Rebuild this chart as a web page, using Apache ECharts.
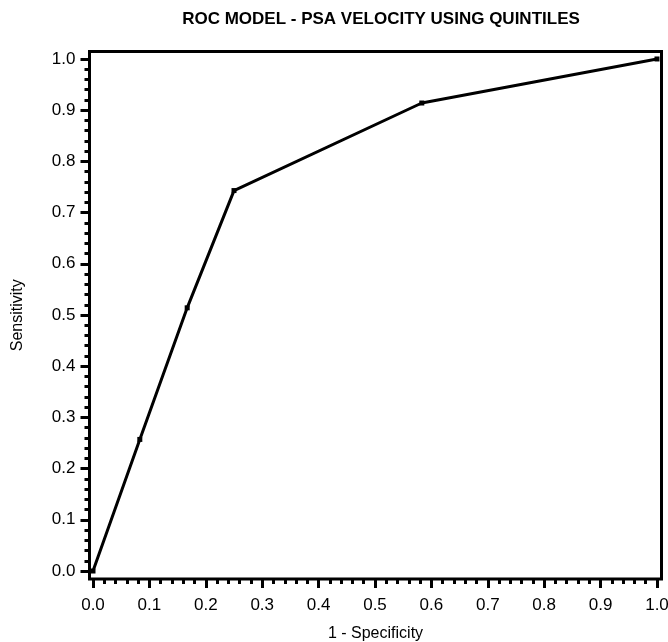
<!DOCTYPE html>
<html>
<head>
<meta charset="utf-8">
<script src="https://cdn.jsdelivr.net/npm/echarts@6/dist/echarts.min.js"></script>
<style>
html,body{margin:0;padding:0;background:#fff;}
#c{width:668px;height:642px;}
</style>
</head>
<body>
<div id="c"></div>
<script>
var titleText = "ROC MODEL - PSA VELOCITY USING QUINTILES";
var xName = "1 - Specificity";
var yName = "Sensitivity";
var falsePositiveRate = [0.0, 0.083, 0.167, 0.25, 0.583, 1.0];
var sensitivity = [0.0, 0.257, 0.514, 0.743, 0.914, 1.0];
var majorTicks = [0.0, 0.1, 0.2, 0.3, 0.4, 0.5, 0.6, 0.7, 0.8, 0.9, 1.0];
var minorTicks = [0.02,0.04,0.06,0.08,0.12,0.14,0.16,0.18,0.22,0.24,0.26,0.28,0.32,0.34,0.36,0.38,
                  0.42,0.44,0.46,0.48,0.52,0.54,0.56,0.58,0.62,0.64,0.66,0.68,0.72,0.74,0.76,0.78,
                  0.82,0.84,0.86,0.88,0.92,0.94,0.96,0.98];
var tickLabels = ["0.0","0.1","0.2","0.3","0.4","0.5","0.6","0.7","0.8","0.9","1.0"];

var pts = falsePositiveRate.map(function(x, i){ return [x, sensitivity[i]]; });
var FONT = "'Liberation Sans', Arial, sans-serif";
var X_MIN = -0.0062, X_MAX = 1.008, Y_MIN = -0.0156, Y_MAX = 1.0146;

function fmt(v){ var i = Math.round(v*10); return tickLabels[i]; }

function mainAxis(isX){
  return {
    type: 'value', gridIndex: 0,
    min: isX ? X_MIN : Y_MIN, max: isX ? X_MAX : Y_MAX,
    position: isX ? 'bottom' : 'left',
    name: isX ? xName : yName, nameLocation: 'middle',
    nameGap: isX ? 47 : 64,
    nameTextStyle: {fontFamily: FONT, fontSize: 16, color: '#000'},
    axisLine: {show: false, onZero: false},
    axisTick: {show: true, inside: false, length: 9, customValues: majorTicks,
      lineStyle: {color: '#000', width: 3}},
    minorTick: {show: false},
    splitLine: {show: false},
    axisLabel: {show: true, margin: isX ? 18 : 14, customValues: majorTicks,
      fontFamily: FONT, fontSize: 17, color: '#000', formatter: fmt}
  };
}
function minorAxis(isX){
  return {
    type: 'value', gridIndex: 0,
    min: isX ? X_MIN : Y_MIN, max: isX ? X_MAX : Y_MAX,
    position: isX ? 'bottom' : 'left', offset: 0,
    axisLine: {show: false, onZero: false},
    axisTick: {show: true, inside: false, length: 5, customValues: minorTicks,
      lineStyle: {color: '#000', width: 3}},
    axisLabel: {show: false},
    splitLine: {show: false}
  };
}

var chart = echarts.init(document.getElementById('c'), null, {renderer:'canvas'});
chart.setOption({
  animation: false,
  backgroundColor: '#fff',
  title: {
    text: titleText,
    left: 376, top: 6, textAlign: 'center',
    textStyle: {fontFamily: FONT, fontSize: 17, fontWeight: 'bold', color: '#000'}
  },
  grid: [
    {left: 89.5, right: 6.5, top: 51.5, bottom: 63, show: true,
     containLabel: false, outerBoundsMode: 'none',
     borderColor: '#000', borderWidth: 3, backgroundColor: 'transparent'}
  ],
  xAxis: [mainAxis(true), minorAxis(true)],
  yAxis: [mainAxis(false), minorAxis(false)],
  series: [{
    type: 'line', xAxisIndex: 0, yAxisIndex: 0,
    data: pts,
    symbol: 'rect', symbolSize: 5, showSymbol: true,
    itemStyle: {color: '#000'},
    lineStyle: {color: '#000', width: 3},
    z: 5
  }]
});
</script>
</body>
</html>
